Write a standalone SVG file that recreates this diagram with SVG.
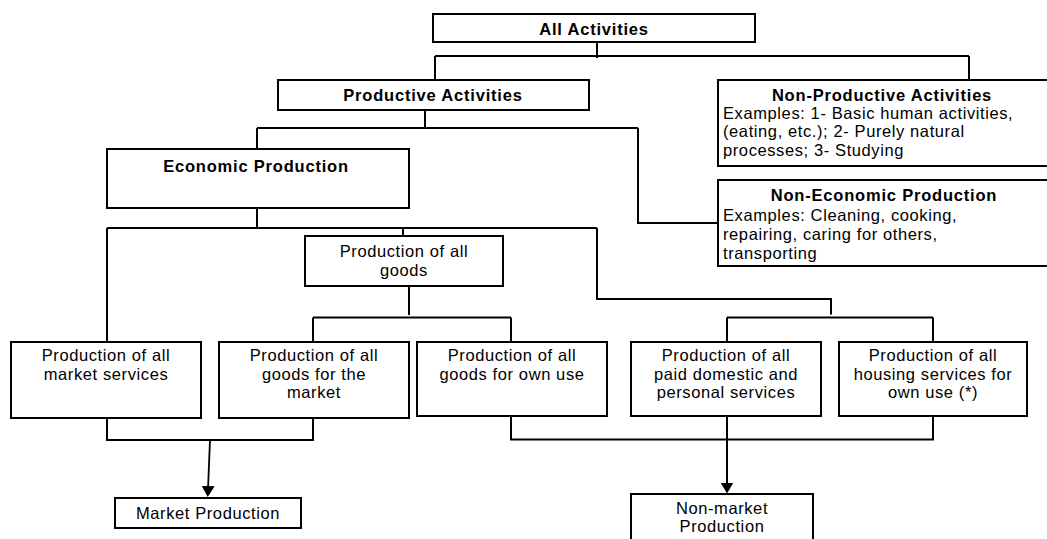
<svg xmlns="http://www.w3.org/2000/svg" width="1047" height="539" viewBox="0 0 1047 539">
<style>
.box{fill:#fff;stroke:#000;stroke-width:2}
.t{font-family:"Liberation Sans",Arial,sans-serif;font-size:16.5px;letter-spacing:0.6px;fill:#000}
.b{font-weight:bold;letter-spacing:0.8px}
.c{text-anchor:middle}
.ln{fill:none;stroke:#000;stroke-width:2}
.ar{fill:none;stroke:#000;stroke-width:1.8}
</style>
<defs>
<marker id="ah" viewBox="0 0 11 13" refX="6" refY="6.5" markerWidth="11" markerHeight="13" markerUnits="userSpaceOnUse" orient="auto">
<path d="M0,0 L11,6.5 L0,13 z" fill="#000"/>
</marker>
</defs>
<rect width="1047" height="539" fill="#fff"/>
<g id="connectors">
<path class="ln" d="M597,42 V58 M435,56 H969 M435,56 V80 M969,56 V80 M425,110 V128 M257,128 H638 M257,128 V149 M638,128 V223 H718 M257,208 V228 M107,228 H597 M107,228 V342 M403,228 V236 M597,228 V299 H831 V314.5 M409,286 V315 M313,317.5 H511 M313,317.5 V342 M511,317.5 V342 M727,317.5 H933 M727,317.5 V342 M933,317.5 V342 M107,418 V440 H313 V418 M511,416 V439.5 H933 V416"/>
<path class="ar" d="M210,440 L207.9,492" marker-end="url(#ah)"/>
<path class="ln" d="M727,416 V488.5" marker-end="url(#ah)"/>
</g>
<g id="all-activities">
<rect class="box" x="433" y="14" width="322" height="28"/>
<text class="t b c" x="594" y="34.5">All Activities</text>
</g>
<g id="productive-activities">
<rect class="box" x="278" y="80" width="311" height="30"/>
<text class="t b c" x="433" y="100.5">Productive Activities</text>
</g>
<g id="non-productive-activities">
<rect class="box" x="718" y="80" width="332" height="86"/>
<text class="t b c" x="882" y="100.5">Non-Productive Activities</text>
<text class="t" x="723" y="118.5">Examples: 1- Basic human activities,</text>
<text class="t" x="723" y="137">(eating, etc.); 2- Purely natural</text>
<text class="t" x="723" y="155.5">processes; 3- Studying</text>
</g>
<g id="economic-production">
<rect class="box" x="107" y="149" width="302" height="59"/>
<text class="t b c" x="256" y="172">Economic Production</text>
</g>
<g id="non-economic-production">
<rect class="box" x="718" y="180" width="332" height="86"/>
<text class="t b c" x="884" y="201">Non-Economic Production</text>
<text class="t" x="723" y="220.5">Examples: Cleaning, cooking,</text>
<text class="t" x="723" y="239.5">repairing, caring for others,</text>
<text class="t" x="723" y="258.5">transporting</text>
</g>
<g id="production-all-goods">
<rect class="box" x="305" y="236" width="198" height="50"/>
<text class="t c" x="404" y="257">Production of all</text>
<text class="t c" x="404" y="275.5">goods</text>
</g>
<g id="market-services">
<rect class="box" x="11" y="342" width="190" height="76"/>
<text class="t c" x="106" y="361">Production of all</text>
<text class="t c" x="106" y="379.5">market services</text>
</g>
<g id="goods-for-market">
<rect class="box" x="219" y="342" width="190" height="76"/>
<text class="t c" x="314" y="361">Production of all</text>
<text class="t c" x="314" y="379.5">goods for the</text>
<text class="t c" x="314" y="398">market</text>
</g>
<g id="goods-own-use">
<rect class="box" x="417" y="342" width="190" height="74"/>
<text class="t c" x="512" y="361">Production of all</text>
<text class="t c" x="512" y="379.5">goods for own use</text>
</g>
<g id="paid-domestic">
<rect class="box" x="631" y="342" width="190" height="74"/>
<text class="t c" x="726" y="361">Production of all</text>
<text class="t c" x="726" y="379.5">paid domestic and</text>
<text class="t c" x="726" y="398">personal services</text>
</g>
<g id="housing-services">
<rect class="box" x="839" y="342" width="188" height="74"/>
<text class="t c" x="933" y="361">Production of all</text>
<text class="t c" x="933" y="379.5">housing services for</text>
<text class="t c" x="933" y="398">own use (*)</text>
</g>
<g id="market-production">
<rect class="box" x="115" y="498" width="186" height="30"/>
<text class="t c" x="208" y="518.5">Market Production</text>
</g>
<g id="non-market-production">
<rect class="box" x="631" y="494" width="182" height="52"/>
<text class="t c" x="722" y="514">Non-market</text>
<text class="t c" x="722" y="532">Production</text>
</g>
</svg>
